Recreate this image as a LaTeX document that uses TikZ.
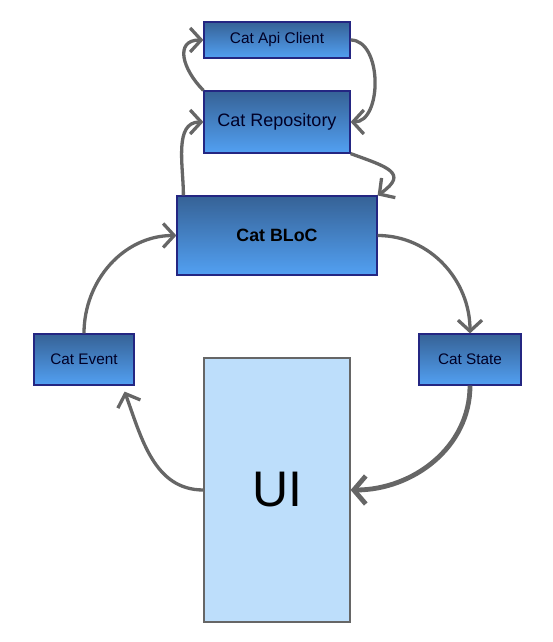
\documentclass[tikz,border=0pt]{standalone}
\usepackage{fontspec}
\setmainfont{Liberation Sans}
\usetikzlibrary{arrows.meta}
\definecolor{boxtop}{RGB}{54,98,150}
\definecolor{boxbot}{RGB}{82,160,242}
\definecolor{boxline}{RGB}{36,38,130}
\definecolor{uifill}{RGB}{189,222,251}
\definecolor{linkgray}{RGB}{102,102,102}
\begin{document}
\begin{tikzpicture}[x=1pt, y=1pt,
    bluebox/.style = {draw=boxline, line width=1.2pt, top color=boxtop, bottom color=boxbot,
        inner sep=0pt, text=black!85!blue},
    uibox/.style = {draw=linkgray, line width=1.2pt, fill=uifill, inner sep=0pt},
    link/.style = {draw=linkgray, line width=3.3pt,
        -{Straight Barb[length=11pt, width=24pt, line width=3.3pt]}}]
    \useasboundingbox (0,0) rectangle (552,642);
    \node [bluebox, minimum width=146pt, minimum height=36pt, font=\fontsize{15.4}{18}\selectfont] (api) at (277,602) {Cat Api Client};
    \node [bluebox, minimum width=146pt, minimum height=62pt, font=\fontsize{18}{21}\selectfont] (repo) at (277,520) {Cat Repository};
    \node [bluebox, minimum width=200pt, minimum height=79pt, font=\bfseries\fontsize{17.8}{21}\selectfont, text=black] (bloc) at (277,406.5) {Cat BLoC};
    \node [bluebox, minimum width=100pt, minimum height=51pt, font=\fontsize{15.3}{18}\selectfont] (event) at (84,282.5) {Cat Event};
    \node [bluebox, minimum width=102pt, minimum height=51pt, font=\fontsize{15.3}{18}\selectfont] (state) at (470,282.5) {Cat State};
    \node [uibox, minimum width=146pt, minimum height=264pt, font=\fontsize{50}{56}\selectfont] (ui) at (277,152) {UI};
    \draw [link] (repo.north west) to[out=135, in=180, looseness=1.5] (api.west);
    \draw [link] (api.east) to[out=0, in=0] (repo.east);
    \draw [link] ([xshift=7pt]bloc.north west) to[out=90, in=180] (repo.west);
    \draw [link] (repo.south east) to[out=-20, in=35, looseness=2] (bloc.north east);
    \draw [link] (bloc.east) to[out=0, in=90] (state.north);
    \draw [link, line width=4.8pt, -{Straight Barb[length=12pt, width=28pt, line width=4.8pt]}] (state.south) to[out=-90, in=0] (ui.east);
    \draw [link] (ui.west) to[out=180, in=-70] ([xshift=-10pt, yshift=-6pt]event.south east);
    \draw [link] (event.north) to[out=90, in=180] (bloc.west);
\end{tikzpicture}
\end{document}
